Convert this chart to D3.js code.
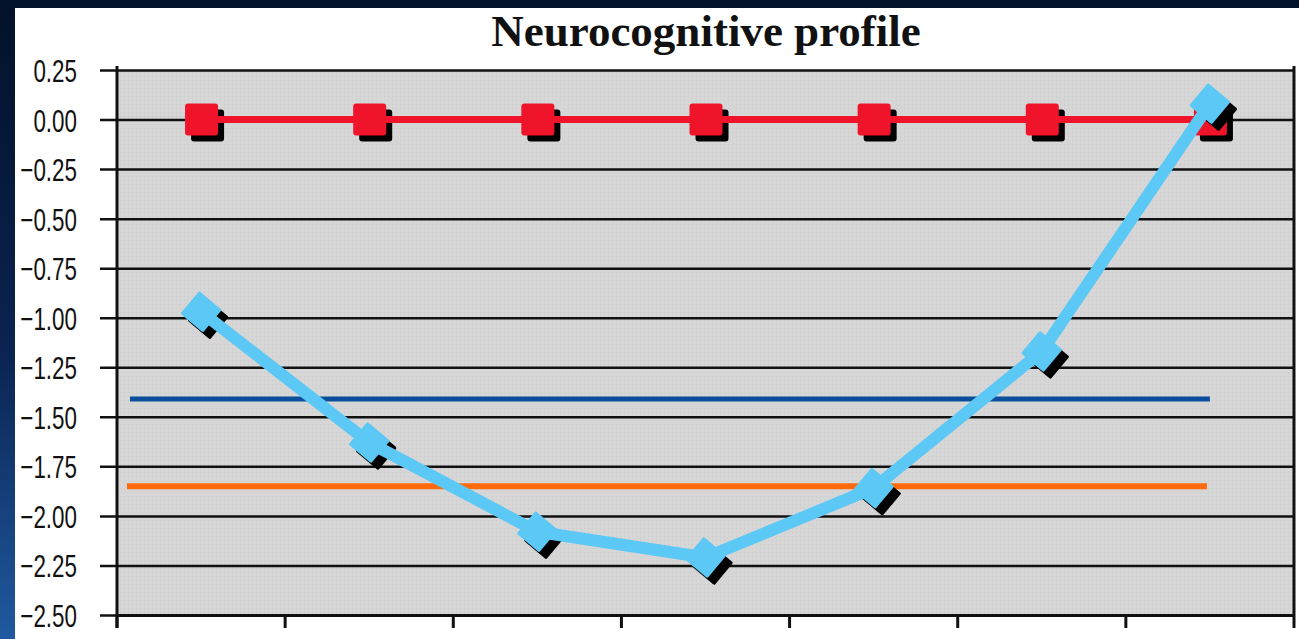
<!DOCTYPE html>
<html>
<head>
<meta charset="utf-8">
<script src="https://cdn.jsdelivr.net/npm/d3@7"></script>
<style>
  html, body { margin: 0; padding: 0; background: #03112a; }
  svg { display: block; }
</style>
</head>
<body>
<svg id="chart" width="1299" height="639"></svg>
<script>
// Neurocognitive profile: patient z-scores against a norm line and two cut-offs
const categories = ["1", "2", "3", "4", "5", "6", "7"];
const patientScores = [-0.97, -1.63, -2.08, -2.21, -1.86, -1.17, 0.08];
const normScores = [0, 0, 0, 0, 0, 0, 0];
const cutoffMild = -1.41;
const cutoffSevere = -1.85;
const yTicks = [0.25, 0, -0.25, -0.5, -0.75, -1, -1.25, -1.5, -1.75, -2, -2.25, -2.5];

const svg = d3.select("#chart");
const W = 1299, H = 639;

// Slide backdrop: dark frame with a blue gradient strip on the left
const defs = svg.append("defs");
const grad = defs.append("linearGradient").attr("id", "strip").attr("x1", 0).attr("y1", 0).attr("x2", 0).attr("y2", 1);
grad.append("stop").attr("offset", "0%").attr("stop-color", "#03112a");
grad.append("stop").attr("offset", "55%").attr("stop-color", "#0a2350");
grad.append("stop").attr("offset", "100%").attr("stop-color", "#1f5aa0");
svg.append("rect").attr("width", W).attr("height", H).attr("fill", "#03112a");
svg.append("rect").attr("x", 0).attr("y", 0).attr("width", 15).attr("height", H).attr("fill", "url(#strip)");
svg.append("rect").attr("x", 15).attr("y", 8).attr("width", W - 15).attr("height", H - 8).attr("fill", "#ffffff");

const plot = { left: 117, right: 1294, top: 70, bottom: 615 };

const x = d3.scaleBand().domain(categories).range([plot.left, plot.right]);
const y = d3.scaleLinear().domain([-2.5, 0.25]).range([plot.bottom, plot.top]);
const cx = d => x(d) + x.bandwidth() / 2;

// Plot area fill with a faint dotted texture
const pat = defs.append("pattern").attr("id", "dots").attr("width", 4).attr("height", 4).attr("patternUnits", "userSpaceOnUse");
pat.append("rect").attr("width", 4).attr("height", 4).attr("fill", "#d6d6d6");
pat.append("rect").attr("width", 1).attr("height", 1).attr("fill", "#cbcbcb");
svg.append("rect")
  .attr("x", plot.left).attr("y", plot.top)
  .attr("width", plot.right - plot.left).attr("height", plot.bottom - plot.top)
  .attr("fill", "url(#dots)");

// Title
svg.append("text")
  .attr("x", 706).attr("y", 46)
  .attr("text-anchor", "middle")
  .attr("font-family", "'Liberation Serif', 'DejaVu Serif', serif")
  .attr("font-weight", "bold")
  .attr("font-size", 45)
  .attr("fill", "#111")
  .text("Neurocognitive profile");

// Y axis with gridlines running the full plot width
const yAxis = d3.axisLeft(y)
  .tickValues(yTicks)
  .tickSize(-(plot.right - plot.left))
  .tickPadding(0)
  .tickFormat(d3.format(".2f"));
const gy = svg.append("g").attr("transform", `translate(${plot.left},0)`).call(yAxis);
gy.select(".domain").remove();
gy.selectAll(".tick line").attr("stroke", "#111").attr("stroke-width", 2.5).attr("x1", -17);
// Narrow, tall tick labels
gy.selectAll(".tick text")
  .attr("x", 0)
  .attr("dy", "0.36em")
  .attr("transform", "translate(-40,0) scale(0.7,1)")
  .attr("font-family", "'Liberation Sans', sans-serif")
  .attr("font-size", 32)
  .attr("fill", "#111")
  .attr("text-anchor", "end");

// Vertical axis lines (left and right borders)
svg.append("line").attr("x1", plot.left).attr("x2", plot.left).attr("y1", plot.top - 4).attr("y2", plot.bottom + 13)
  .attr("stroke", "#111").attr("stroke-width", 3);
svg.append("line").attr("x1", plot.right).attr("x2", plot.right).attr("y1", plot.top - 4).attr("y2", plot.bottom + 13)
  .attr("stroke", "#111").attr("stroke-width", 3);

// X axis: ticks at category boundaries, no labels
const xAxis = d3.axisBottom(x).tickSize(0).tickFormat("");
const gx = svg.append("g").attr("transform", `translate(0,${plot.bottom})`).call(xAxis);
gx.select(".domain").attr("stroke", "#111").attr("stroke-width", 3);
gx.selectAll(".tick").remove();
gx.selectAll(".bound").data(categories).join("line")
  .attr("class", "bound")
  .attr("x1", d => x(d)).attr("x2", d => x(d))
  .attr("y1", 0).attr("y2", 13)
  .attr("stroke", "#111").attr("stroke-width", 3);

// Cut-off reference lines
const refStart = x(categories[0]) + 13;
const refEnd = cx(categories[categories.length - 1]);
svg.append("line")
  .attr("x1", refStart).attr("x2", refEnd)
  .attr("y1", y(cutoffMild)).attr("y2", y(cutoffMild))
  .attr("stroke", "#0b4f9c").attr("stroke-width", 5);
svg.append("line")
  .attr("x1", refStart - 3).attr("x2", refEnd - 3)
  .attr("y1", y(cutoffSevere)).attr("y2", y(cutoffSevere))
  .attr("stroke", "#ff6a0d").attr("stroke-width", 6);

// Norm line with square markers
const normData = categories.map((c, i) => ({ c, v: normScores[i] }));
const line = d3.line().x(d => cx(d.c)).y(d => y(d.v));
svg.append("g").selectAll("rect").data(normData).join("rect")
  .attr("x", d => cx(d.c) - 16 + 6).attr("y", d => y(d.v) - 16 + 6)
  .attr("width", 33).attr("height", 32).attr("rx", 3)
  .attr("fill", "#000");
svg.append("path").datum(normData).attr("d", line)
  .attr("fill", "none").attr("stroke", "#f0142a").attr("stroke-width", 7);
svg.append("g").selectAll("rect").data(normData).join("rect")
  .attr("x", d => cx(d.c) - 16).attr("y", d => y(d.v) - 16)
  .attr("width", 33).attr("height", 32).attr("rx", 3)
  .attr("fill", "#f0142a");

// Patient line with diamond markers
const patData = categories.map((c, i) => ({ c, v: patientScores[i] }));
const diamond = d3.symbol().type(d3.symbolSquare).size(700);
svg.append("g").selectAll("path").data(patData).join("path")
  .attr("d", diamond)
  .attr("transform", d => `translate(${cx(d.c) + 7},${y(d.v) + 7}) rotate(40)`)
  .attr("fill", "#000")
  .attr("stroke", "#000").attr("stroke-width", 3).attr("stroke-linejoin", "round");
svg.append("path").datum(patData).attr("d", line)
  .attr("fill", "none").attr("stroke", "#5cc8f5").attr("stroke-width", 12)
  .attr("stroke-linejoin", "round");
svg.append("g").selectAll("path").data(patData).join("path")
  .attr("d", diamond)
  .attr("transform", d => `translate(${cx(d.c)},${y(d.v)}) rotate(40)`)
  .attr("fill", "#5cc8f5")
  .attr("stroke", "#5cc8f5").attr("stroke-width", 3).attr("stroke-linejoin", "round");
</script>
</body>
</html>
